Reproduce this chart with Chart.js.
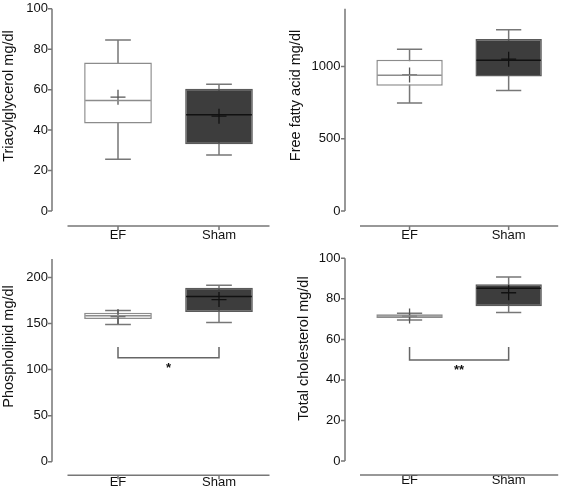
<!DOCTYPE html>
<html>
<head>
<meta charset="utf-8">
<script src="https://cdn.jsdelivr.net/npm/chart.js@4.4.0/dist/chart.umd.min.js"></script>
<style>
  body { margin: 0; background: #fff; }
  canvas { position: absolute; }
</style>
</head>
<body>
<canvas id="tg" width="283" height="245" style="left:0;top:0"></canvas>
<canvas id="ffa" width="284" height="245" style="left:283px;top:0"></canvas>
<canvas id="pl" width="283" height="250" style="left:0;top:245px"></canvas>
<canvas id="tc" width="284" height="250" style="left:283px;top:245px"></canvas>
<script>
const groups = ['EF', 'Sham'];

// each box: [low whisker, Q1, median, Q3, high whisker]
const tgEF = [25.6, 43.3, 54.7, 73.4, 84.6];
const tgSham = [27.7, 33, 47.6, 60.4, 62.7];
const tgMean = [56.3, 46.9];
const tgTicks = [0, 20, 40, 60, 80, 100];

const ffaEF = [747, 867, 940, 1048, 1120];
const ffaSham = [834, 931, 1044, 1191, 1255];
const ffaMean = [942, 1051];
const ffaTicks = [0, 500, 1000];

const plEF = [149, 154.8, 158.3, 161.6, 164.2];
const plSham = [151.2, 162.4, 179.4, 188.7, 191.6];
const plMean = [157.5, 176];
const plTicks = [0, 50, 100, 150, 200];
const plSig = [112.8, 124.4]; // bracket line, arm top

const tcEF = [69.6, 70.5, 71.5, 72.4, 72.9];
const tcSham = [73.2, 76.3, 85.2, 87.2, 90.8];
const tcMean = [71.5, 83];
const tcTicks = [0, 20, 40, 60, 80, 100];
const tcSig = [49.8, 56.2];

const FONT = "'Liberation Sans', Arial, sans-serif";
const AXIS = '#777';

const boxExtras = {
  id: 'boxExtras',
  beforeDatasetsDraw(chart, args, o) {
    const {ctx, scales: {x, y}} = chart;
    const bars = chart.getDatasetMeta(1).data;
    ctx.save();
    ctx.strokeStyle = AXIS;
    ctx.lineWidth = 1.5;
    o.boxes.forEach((b, i) => {
      const cx = x.getPixelForValue(i);
      const half = bars[i].width * 0.19;
      ctx.beginPath();
      ctx.moveTo(cx, y.getPixelForValue(b[0]));
      ctx.lineTo(cx, y.getPixelForValue(b[4]));
      [b[0], b[4]].forEach(v => {
        const py = y.getPixelForValue(v);
        ctx.moveTo(cx - half, py);
        ctx.lineTo(cx + half, py);
      });
      ctx.stroke();
    });
    ctx.restore();
  },
  afterDatasetsDraw(chart, args, o) {
    const {ctx, scales: {x, y}} = chart;
    const bars = chart.getDatasetMeta(1).data;
    ctx.save();
    ctx.lineWidth = 1.5;
    o.boxes.forEach((b, i) => {
      const cx = x.getPixelForValue(i);
      const w = bars[i].width / 2;
      const py = y.getPixelForValue(b[2]);
      ctx.strokeStyle = ['#8c8c8c', '#111'][i];
      ctx.beginPath();
      ctx.moveTo(cx - w + 1, py);
      ctx.lineTo(cx + w - 1, py);
      ctx.stroke();
    });
    ctx.restore();
  },
  afterDraw(chart, args, o) {
    const {ctx, chartArea: a, scales: {x, y}} = chart;
    ctx.save();
    ctx.strokeStyle = AXIS;
    ctx.lineWidth = 1.5;
    // detached y axis
    const ax = a.left - o.yGap;
    ctx.beginPath();
    ctx.moveTo(ax, y.getPixelForValue(y.max));
    ctx.lineTo(ax, y.getPixelForValue(0));
    y.ticks.forEach(t => {
      const py = y.getPixelForValue(t.value);
      ctx.moveTo(ax - 4, py);
      ctx.lineTo(ax, py);
    });
    // detached x axis
    const ay = a.bottom + o.xGap;
    ctx.moveTo(a.left, ay);
    ctx.lineTo(a.right, ay);
    groups.forEach((g, i) => {
      const px = x.getPixelForValue(i);
      ctx.moveTo(px, ay);
      ctx.lineTo(px, ay + 4);
    });
    ctx.stroke();

    // significance bracket
    if (o.sig) {
      const x1 = x.getPixelForValue(0), x2 = x.getPixelForValue(1);
      const y1 = y.getPixelForValue(o.sig[0]), y2 = y.getPixelForValue(o.sig[1]);
      ctx.strokeStyle = '#666';
      ctx.beginPath();
      ctx.moveTo(x1, y2);
      ctx.lineTo(x1, y1);
      ctx.lineTo(x2, y1);
      ctx.lineTo(x2, y2);
      ctx.stroke();
      ctx.fillStyle = '#111';
      ctx.font = 'bold 13px ' + FONT;
      ctx.textAlign = 'center';
      ctx.textBaseline = 'top';
      ctx.fillText(o.star, (x1 + x2) / 2, y1 + 4);
    }

    // y title
    ctx.translate(o.titleX, o.titleY);
    ctx.rotate(-Math.PI / 2);
    ctx.fillStyle = '#111';
    ctx.font = '14.5px ' + FONT;
    ctx.textAlign = 'center';
    ctx.textBaseline = 'middle';
    ctx.fillText(o.title, 0, 0);
    ctx.restore();
  }
};

// invisible tick marks give the label gap without padding the chart area
const hiddenGrid = len => ({ display: true, drawOnChartArea: false, drawTicks: true, tickLength: len, color: 'rgba(0,0,0,0)' });

function boxPanel(id, ef, sham, mean, ticks, max, p) {
  const canvas = document.getElementById(id);
  new Chart(canvas, {
    type: 'bar',
    data: {
      labels: groups,
      datasets: [
        {
          type: 'line',
          data: mean,
          showLine: false,
          pointStyle: 'cross',
          pointRadius: 7.5,
          pointBorderWidth: 1.3,
          pointBorderColor: ['#555', '#111'],
          order: 0
        },
        {
          data: [[ef[1], ef[3]], [sham[1], sham[3]]],
          backgroundColor: ['#ffffff', '#3d3d3d'],
          borderColor: ['#8c8c8c', '#5a5a5a'],
          borderWidth: 1.5,
          borderSkipped: false,
          barPercentage: 0.67,
          categoryPercentage: 1,
          order: 1
        }
      ]
    },
    options: {
      responsive: false,
      animation: false,
      events: [],
      layout: { padding: { top: p.top, right: canvas.width - p.right, left: 0, bottom: 0 } },
      plugins: {
        legend: { display: false },
        tooltip: { enabled: false },
        boxExtras: {
          boxes: [ef, sham],
          sig: p.sig,
          star: p.star,
          title: p.title,
          titleX: p.titleX,
          titleY: p.titleY,
          xGap: p.xGap,
          yGap: p.yGap
        }
      },
      scales: {
        x: {
          offset: true,
          grid: hiddenGrid(p.xPad),
          border: { display: false },
          ticks: { color: '#111', font: { family: FONT, size: 13 }, padding: 0 },
          afterFit: s => { s.height = canvas.height - p.bottom; }
        },
        y: {
          min: 0,
          max: max,
          grid: hiddenGrid(19.5),
          border: { display: false },
          ticks: { color: '#111', font: { family: FONT, size: 13 }, padding: 0, callback: v => String(v) },
          afterBuildTicks: s => { s.ticks = ticks.map(v => ({ value: v })); },
          afterFit: s => { s.width = p.left; }
        }
      }
    },
    plugins: [boxExtras]
  });
}

boxPanel('tg', tgEF, tgSham, tgMean, tgTicks, 100, {
  title: 'Triacylglycerol mg/dl', left: 67.5, right: 269.5, top: 8, bottom: 211,
  yGap: 15.5, xGap: 15, xPad: 17, titleX: 9, titleY: 96
});
boxPanel('ffa', ffaEF, ffaSham, ffaMean, ffaTicks, 1400, {
  title: 'Free fatty acid mg/dl', left: 77, right: 281, top: 8, bottom: 211,
  yGap: 15, xGap: 15, xPad: 17, titleX: 13, titleY: 95.5
});
boxPanel('pl', plEF, plSham, plMean, plTicks, 220, {
  title: 'Phospholipid mg/dl', left: 67.5, right: 269.5, top: 14, bottom: 216.7,
  yGap: 15.5, xGap: 13.5, xPad: 13, titleX: 9, titleY: 101.5, sig: plSig, star: '*'
});
boxPanel('tc', tcEF, tcSham, tcMean, tcTicks, 100, {
  title: 'Total cholesterol mg/dl', left: 77, right: 281, top: 13.3, bottom: 216,
  yGap: 15, xGap: 14, xPad: 12, titleX: 21, titleY: 103.5, sig: tcSig, star: '**'
});
</script>
</body>
</html>
